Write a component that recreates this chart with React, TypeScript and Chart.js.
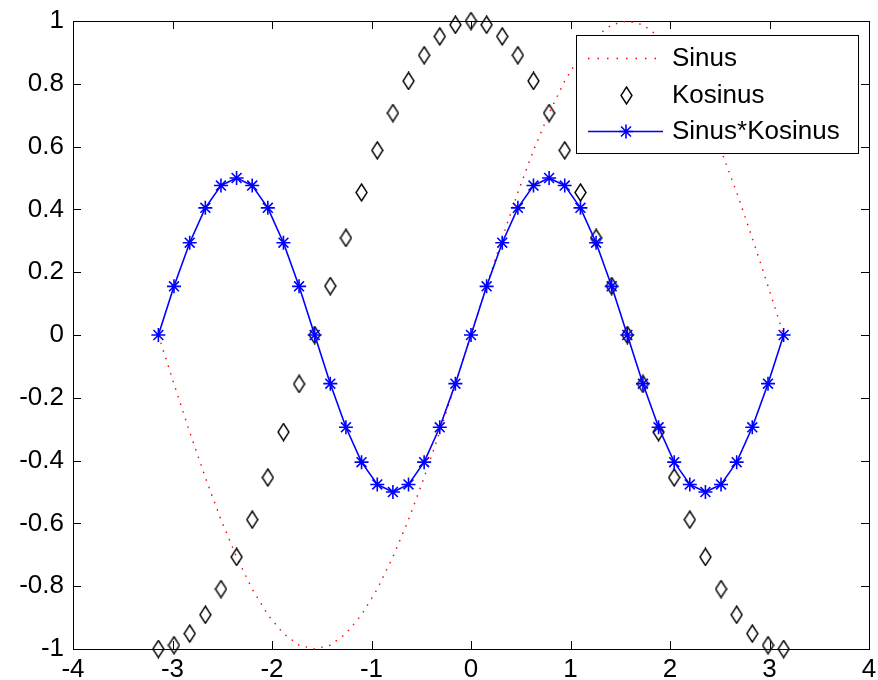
import { useEffect, useRef } from 'react';
import { Chart, registerables } from 'chart.js';

Chart.register(...registerables);

const xValues = [
  -3.142, -2.985, -2.827, -2.670, -2.513, -2.356, -2.199, -2.042, -1.885, -1.728,
  -1.571, -1.414, -1.257, -1.100, -0.942, -0.785, -0.628, -0.471, -0.314, -0.157,
  0, 0.157, 0.314, 0.471, 0.628, 0.785, 0.942, 1.100, 1.257, 1.414,
  1.571, 1.728, 1.885, 2.042, 2.199, 2.356, 2.513, 2.670, 2.827, 2.985, 3.142,
];

const sinus = [
  0, -0.156, -0.309, -0.454, -0.588, -0.707, -0.809, -0.891, -0.951, -0.988,
  -1, -0.988, -0.951, -0.891, -0.809, -0.707, -0.588, -0.454, -0.309, -0.156,
  0, 0.156, 0.309, 0.454, 0.588, 0.707, 0.809, 0.891, 0.951, 0.988,
  1, 0.988, 0.951, 0.891, 0.809, 0.707, 0.588, 0.454, 0.309, 0.156, 0,
];

const kosinus = [
  -1, -0.988, -0.951, -0.891, -0.809, -0.707, -0.588, -0.454, -0.309, -0.156,
  0, 0.156, 0.309, 0.454, 0.588, 0.707, 0.809, 0.891, 0.951, 0.988,
  1, 0.988, 0.951, 0.891, 0.809, 0.707, 0.588, 0.454, 0.309, 0.156,
  0, -0.156, -0.309, -0.454, -0.588, -0.707, -0.809, -0.891, -0.951, -0.988, -1,
];

const sinusKosinus = [
  0, 0.155, 0.294, 0.405, 0.476, 0.5, 0.476, 0.405, 0.294, 0.155,
  0, -0.155, -0.294, -0.405, -0.476, -0.5, -0.476, -0.405, -0.294, -0.155,
  0, 0.155, 0.294, 0.405, 0.476, 0.5, 0.476, 0.405, 0.294, 0.155,
  0, -0.155, -0.294, -0.405, -0.476, -0.5, -0.476, -0.405, -0.294, -0.155, 0,
];

const seriesNames = ['Sinus', 'Kosinus', 'Sinus*Kosinus'];
const xTickValues = [-4, -3, -2, -1, 0, 1, 2, 3, 4];
const yTickValues = [-1, -0.8, -0.6, -0.4, -0.2, 0, 0.2, 0.4, 0.6, 0.8, 1];

const FONT = "'Liberation Sans', Arial, Helvetica, sans-serif";
const RED = '#ff0000';
const BLUE = '#0000ff';

function makeDiamond(): HTMLCanvasElement {
  const c = document.createElement('canvas');
  c.width = 13;
  c.height = 19;
  const g = c.getContext('2d')!;
  g.strokeStyle = '#000';
  g.lineWidth = 1.4;
  g.beginPath();
  g.moveTo(6.5, 1);
  g.lineTo(12, 9.5);
  g.lineTo(6.5, 18);
  g.lineTo(1, 9.5);
  g.closePath();
  g.stroke();
  return c;
}

function drawStar(ctx: CanvasRenderingContext2D, x: number, y: number, r: number) {
  ctx.beginPath();
  for (let i = 0; i < 4; i++) {
    const a = (i * Math.PI) / 4;
    const dx = Math.cos(a) * r;
    const dy = Math.sin(a) * r;
    ctx.moveTo(x - dx, y - dy);
    ctx.lineTo(x + dx, y + dy);
  }
  ctx.stroke();
}

export default function App() {
  const ref = useRef<HTMLCanvasElement | null>(null);

  useEffect(() => {
    if (!ref.current) return;
    const diamond = makeDiamond();

    const boxPlugin = {
      id: 'matlabBox',
      beforeDatasetsDraw(chart: any) {
        const { ctx, chartArea } = chart;
        const { left, right, top, bottom } = chartArea;
        const xs = chart.scales.x;
        const ys = chart.scales.y;
        const tl = 8;
        ctx.save();
        ctx.strokeStyle = '#000';
        ctx.lineWidth = 1;
        ctx.strokeRect(Math.round(left) + 0.5, Math.round(top) + 0.5, Math.round(right - left), Math.round(bottom - top));
        ctx.beginPath();
        xTickValues.forEach((v) => {
          const px = Math.round(xs.getPixelForValue(v)) + 0.5;
          ctx.moveTo(px, bottom);
          ctx.lineTo(px, bottom - tl);
          ctx.moveTo(px, top);
          ctx.lineTo(px, top + tl);
        });
        yTickValues.forEach((v) => {
          const py = Math.round(ys.getPixelForValue(v)) + 0.5;
          ctx.moveTo(left, py);
          ctx.lineTo(left + tl, py);
          ctx.moveTo(right, py);
          ctx.lineTo(right - tl, py);
        });
        ctx.stroke();
        ctx.restore();
      },
    };

    const legendPlugin = {
      id: 'matlabLegend',
      afterDraw(chart: any) {
        const { ctx, chartArea } = chart;
        const bx = Math.round(chartArea.right - 293);
        const by = Math.round(chartArea.top + 14);
        const bw = 282;
        const bh = 118;
        ctx.save();
        ctx.fillStyle = '#fff';
        ctx.fillRect(bx, by, bw, bh);
        ctx.strokeStyle = '#000';
        ctx.lineWidth = 1;
        ctx.strokeRect(bx + 0.5, by + 0.5, bw, bh);

        const rows = [by + 23, by + 60, by + 96];
        const lx0 = bx + 12;
        const lx1 = bx + 87;
        const mx = bx + 50;
        const tx = bx + 96;

        // Sinus
        ctx.strokeStyle = RED;
        ctx.lineWidth = 1.4;
        ctx.setLineDash([1.5, 8]);
        ctx.beginPath();
        ctx.moveTo(lx0, rows[0] + 0.5);
        ctx.lineTo(lx1, rows[0] + 0.5);
        ctx.stroke();
        ctx.setLineDash([]);

        // Kosinus
        ctx.drawImage(diamond, Math.round(mx - diamond.width / 2), Math.round(rows[1] - diamond.height / 2));

        // Sinus*Kosinus
        ctx.strokeStyle = BLUE;
        ctx.lineWidth = 1.6;
        ctx.beginPath();
        ctx.moveTo(lx0, rows[2] + 0.5);
        ctx.lineTo(lx1, rows[2] + 0.5);
        ctx.stroke();
        ctx.lineWidth = 1.6;
        drawStar(ctx, mx, rows[2] + 0.5, 7);

        ctx.fillStyle = '#000';
        ctx.font = `26px ${FONT}`;
        ctx.textAlign = 'left';
        ctx.textBaseline = 'middle';
        seriesNames.forEach((n, i) => ctx.fillText(n, tx, rows[i] + 1));
        ctx.restore();
      },
    };

    const chart = new Chart(ref.current, {
      type: 'line',
      data: {
        datasets: [
          {
            label: seriesNames[0],
            data: xValues.map((x, i) => ({ x, y: sinus[i] })),
            borderColor: RED,
            borderWidth: 1.4,
            borderDash: [1.5, 6.5],
            pointRadius: 0,
            fill: false,
            tension: 0,
            clip: false,
            order: 3,
          },
          {
            label: seriesNames[1],
            data: xValues.map((x, i) => ({ x, y: kosinus[i] })),
            showLine: false,
            pointStyle: diamond,
            pointRadius: 8,
            borderColor: '#000',
            backgroundColor: 'rgba(0,0,0,0)',
            clip: false,
            order: 2,
          },
          {
            label: seriesNames[2],
            data: xValues.map((x, i) => ({ x, y: sinusKosinus[i] })),
            borderColor: BLUE,
            borderWidth: 1.6,
            pointStyle: 'star',
            pointRadius: 7,
            pointBorderWidth: 1.6,
            pointBorderColor: BLUE,
            pointBackgroundColor: BLUE,
            fill: false,
            tension: 0,
            clip: false,
            order: 1,
          },
        ],
      },
      options: {
        responsive: false,
        animation: false,
        devicePixelRatio: 1,
        layout: { padding: { left: 0, right: 8, top: 21, bottom: 0 } },
        plugins: {
          legend: { display: false },
          tooltip: { enabled: false },
          title: { display: false },
        },
        scales: {
          x: {
            type: 'linear',
            min: -4,
            max: 4,
            grid: { display: false, drawTicks: false },
            border: { display: false },
            afterBuildTicks: (s: any) => {
              s.ticks = xTickValues.map((v) => ({ value: v }));
            },
            afterFit: (s: any) => {
              s.height = 31;
              s.paddingLeft = 0;
              s.paddingRight = 0;
            },
            ticks: {
              padding: 5,
              color: '#000',
              font: { family: FONT, size: 26 },
              maxRotation: 0,
              autoSkip: false,
              callback: (v: any) => String(v),
            },
          },
          y: {
            type: 'linear',
            min: -1,
            max: 1,
            grid: { display: false, drawTicks: false },
            border: { display: false },
            afterBuildTicks: (s: any) => {
              s.ticks = yTickValues.map((v) => ({ value: v }));
            },
            afterFit: (s: any) => {
              s.width = 73;
              s.paddingTop = 0;
              s.paddingBottom = 0;
            },
            ticks: {
              padding: 9,
              color: '#000',
              font: { family: FONT, size: 26 },
              autoSkip: false,
              callback: (v: any) => String(v),
            },
          },
        },
      },
      plugins: [boxPlugin, legendPlugin],
    } as any);

    return () => chart.destroy();
  }, []);

  return (
    <div style={{ position: 'fixed', left: 0, top: 0, width: 878, height: 680, background: '#fff' }}>
      <canvas ref={ref} width={878} height={680} style={{ display: 'block' }} />
    </div>
  );
}
